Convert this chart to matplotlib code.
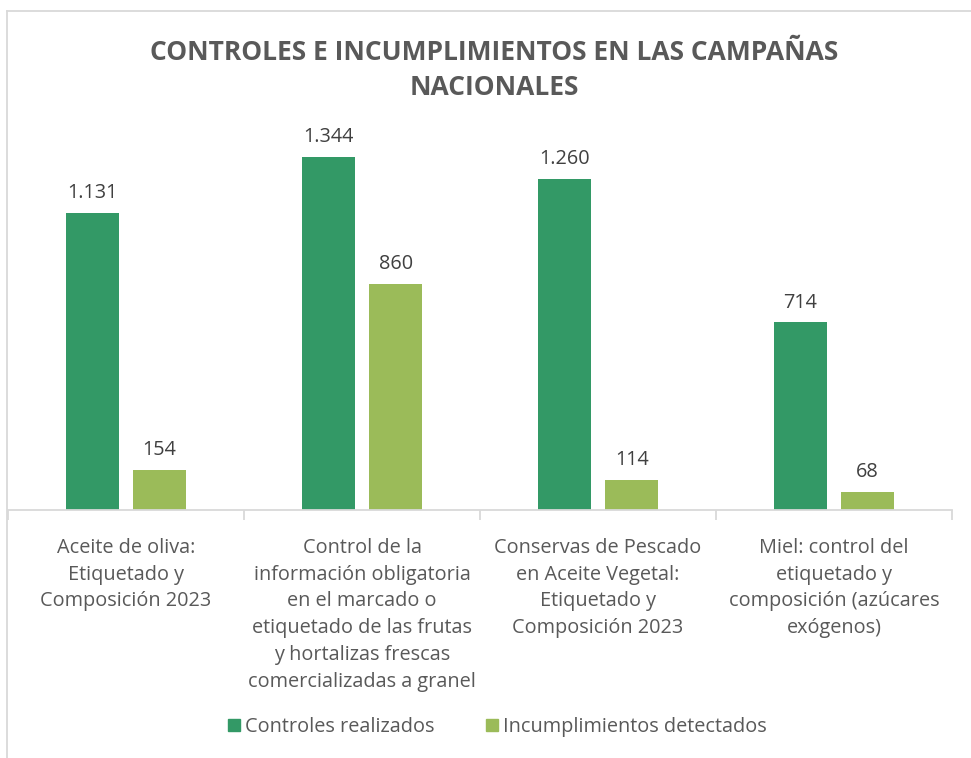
import numpy as np
import matplotlib.pyplot as plt
from matplotlib.lines import Line2D
from matplotlib.patches import Patch

plt.rcParams['font.family'] = ['Open Sans', 'DejaVu Sans']

categories = [
    "Aceite de oliva:\nEtiquetado y\nComposición 2023",
    "Control de la\ninformación obligatoria\nen el marcado o\netiquetado de las frutas\ny hortalizas frescas\ncomercializadas a granel",
    "Conservas de Pescado\nen Aceite Vegetal:\nEtiquetado y\nComposición 2023",
    "Miel: control del\netiquetado y\ncomposición (azúcares\nexógenos)",
]
controles = [1131, 1344, 1260, 714]
incumplimientos = [154, 860, 114, 68]
series_names = ["Controles realizados", "Incumplimientos detectados"]

DARK = "#339966"
LIGHT = "#9bbb59"
TEXT = "#595959"
GRID = "#d9d9d9"

W, H = 971, 758
fig = plt.figure(figsize=(W / 100, H / 100), dpi=100)

# plot area in pixels: x 8..952, baseline at y=510
left, right, bottom_px, top_px = 8, 952, 510, 116
ax = fig.add_axes([left / W, 1 - bottom_px / H,
                   (right - left) / W, (bottom_px - top_px) / H])

x = np.arange(len(categories))
bw = 0.225
gap = 0.06
off = (bw + gap) / 2

b1 = ax.bar(x - off, controles, bw, color=DARK)
b2 = ax.bar(x + off, incumplimientos, bw, color=LIGHT)

def fmt(v):
    return f"{v:,}".replace(",", ".")

for bars, vals in ((b1, controles), (b2, incumplimientos)):
    for b, v in zip(bars, vals):
        ax.annotate(fmt(v), (b.get_x() + b.get_width() / 2, v),
                    xytext=(0, 7), textcoords="offset points",
                    ha="center", va="bottom", fontsize=14.3, color="#404040")

ax.set_xlim(-0.5, len(categories) - 0.5)
ax.set_ylim(0, 1500)
ax.set_yticks([])
for s in ("top", "right", "left"):
    ax.spines[s].set_visible(False)
ax.spines["bottom"].set_color(GRID)
ax.spines["bottom"].set_linewidth(1.3)

# category boundaries as ticks
ax.set_xticks(np.arange(len(categories) + 1) - 0.5, minor=False)
ax.set_xticklabels([])
ax.tick_params(axis="x", length=7, color=GRID, width=1.3, direction="out")
ax.set_xticks(x, minor=True)
ax.set_xticklabels(categories, minor=True, fontsize=14.3, color=TEXT,
                   linespacing=1.45)
ax.tick_params(axis="x", which="minor", length=0, pad=20)

fig.text(494 / W, 1 - 70 / H,
         "CONTROLES E INCUMPLIMIENTOS EN LAS CAMPAÑAS\nNACIONALES",
         ha="center", va="center", fontsize=19, fontweight="bold",
         color=TEXT, linespacing=1.37)

handles = [Patch(color=DARK), Patch(color=LIGHT)]
fig.legend(handles, series_names, loc="center", ncol=2,
           bbox_to_anchor=(497 / W, 1 - 727 / H), frameon=False,
           fontsize=14.3, labelcolor=TEXT, handlelength=0.6, handleheight=0.6,
           handletextpad=0.25, columnspacing=2.6)

# chart frame (partly cropped in the reference)
fig.add_artist(Line2D([7 / W, 7 / W], [1 - 11 / H, 0], color=GRID, lw=1.3,
                      transform=fig.transFigure))
fig.add_artist(Line2D([7 / W, 1], [1 - 11 / H, 1 - 11 / H], color=GRID, lw=1.3,
                      transform=fig.transFigure))

fig.savefig("out.png", dpi=100)
